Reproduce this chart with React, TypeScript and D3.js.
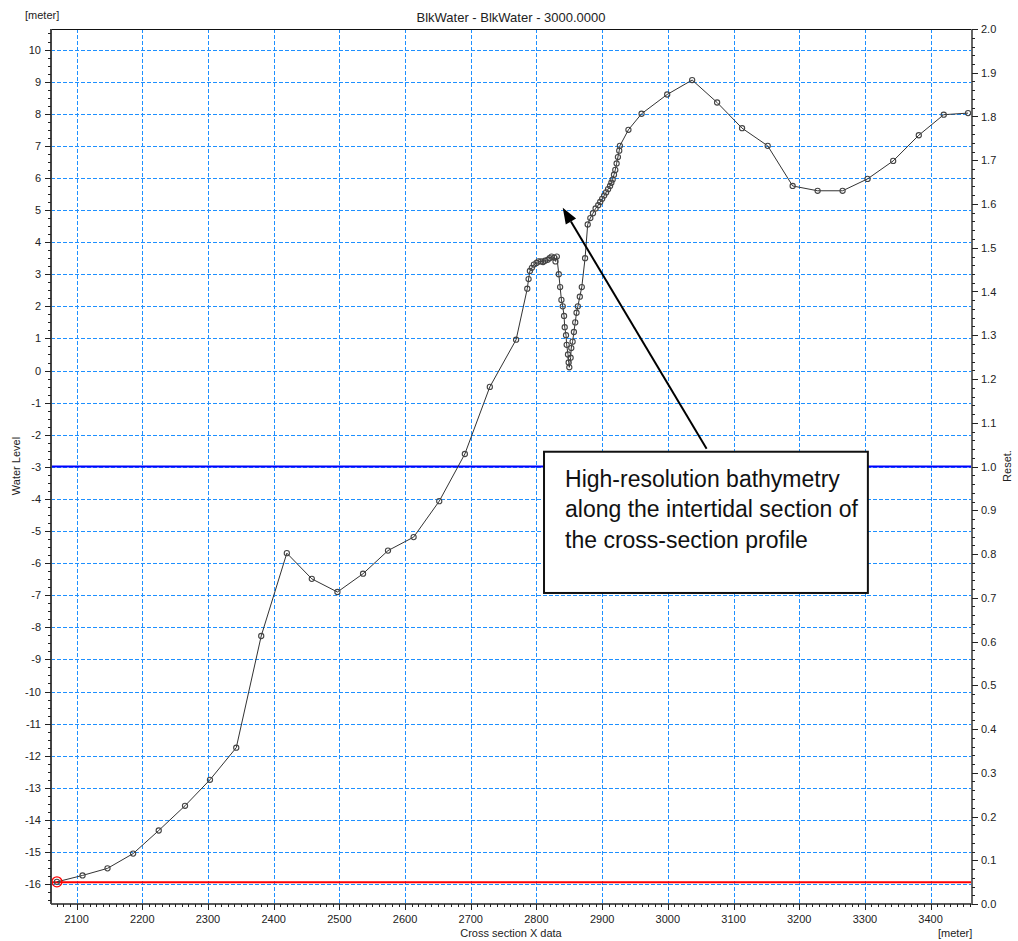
import React, { useEffect, useRef } from 'react';
import * as d3 from 'd3';

// cross-section profile (x in meter, water level in meter)
const crossX = [
  2070, 2109, 2147, 2186, 2225, 2265, 2303, 2343, 2381, 2420, 2458, 2497, 2536, 2574, 2613,
  2652, 2691, 2729, 2769, 2786, 2788, 2790, 2793, 2796, 2800, 2803, 2807, 2810, 2813, 2817,
  2820, 2823, 2827, 2829, 2831, 2834, 2836, 2838, 2840, 2842, 2843, 2845, 2846, 2848, 2849,
  2850, 2852, 2853, 2855, 2857, 2859, 2861, 2863, 2866, 2869, 2874, 2878, 2882, 2886, 2890,
  2894, 2897, 2900, 2903, 2906, 2909, 2912, 2914, 2916, 2918, 2920, 2922, 2924, 2926, 2927,
  2940, 2960, 2999, 3037, 3075, 3113, 3152, 3190, 3228, 3266, 3304, 3343, 3382, 3420, 3457,
];
const waterLevel = [
  -15.93, -15.73, -15.51, -15.05, -14.33, -13.56, -12.75, -11.75, -8.27, -5.69, -6.49, -6.9, -6.33, -5.61, -5.19,
  -4.07, -2.6, -0.51, 0.96, 2.55, 2.85, 3.1, 3.2, 3.3, 3.35, 3.4, 3.4, 3.38, 3.42, 3.45,
  3.5, 3.55, 3.52, 3.4, 3.55, 3.0, 2.6, 2.2, 2.0, 1.7, 1.35, 1.1, 0.8, 0.5, 0.25,
  0.1, 0.4, 0.7, 0.9, 1.2, 1.5, 1.8, 2.0, 2.3, 2.6, 3.5, 4.55, 4.75, 4.9, 5.05,
  5.15, 5.25, 5.35, 5.45, 5.55, 5.65, 5.75, 5.85, 5.95, 6.1, 6.25, 6.45, 6.65, 6.85, 7.0,
  7.5, 8.0, 8.6, 9.05, 8.35, 7.55, 7.0, 5.75, 5.6, 5.6, 5.97, 6.53, 7.33, 7.97, 8.02,
];

// reset levels on the right axis
const resetLevels = [1.0, 0.05];
const resetColors = ['#0000ff', '#ff0000'];

const xTicks = d3.range(2100, 3401, 100);
const xMinorTicks = d3.range(2070, 3461, 10);
const yTicks = d3.range(-16, 11, 1);
const yMinorTicks = d3.range(-16.5, 10.6, 0.25);
const rTicks = d3.range(0, 2.001, 0.1);
const rMinorTicks = d3.range(0, 2.001, 0.02);

// annotation, in data coordinates
const arrowFrom = [3059, -2.44];
const arrowTo = [2840, 5.07];
const noteBox = [2811.5, -2.53, 3304.5, -6.93];
const noteLines = [
  'High-resolution bathymetry',
  'along the intertidal section of',
  'the cross-section profile',
];

const W = 1018;
const H = 941;
const margin = { top: 29, right: 46, bottom: 37, left: 51 };

export default function App() {
  const svgRef = useRef<SVGSVGElement>(null);

  useEffect(() => {
    if (!svgRef.current) return;
    const svg = d3.select(svgRef.current);
    svg.selectAll('*').remove();

    const x0 = margin.left, x1 = W - margin.right;
    const y0 = margin.top, y1 = H - margin.bottom;

    const x = d3.scaleLinear().domain([2061, 3463]).range([x0, x1]);
    const y = d3.scaleLinear().domain([-16.62, 10.64]).range([y1, y0]);
    const yr = d3.scaleLinear().domain([0, 2]).range([y1, y0]);

    const font = 'Liberation Sans, Arial, sans-serif';

    svg.append('rect').attr('width', W).attr('height', H).attr('fill', '#fff');

    // grid
    const grid = svg.append('g').attr('stroke', '#1e90ff').attr('stroke-width', 1)
      .attr('stroke-dasharray', '4,2');
    grid.selectAll('.gx').data(xTicks).enter().append('line')
      .attr('x1', d => Math.round(x(d)) + 0.5).attr('x2', d => Math.round(x(d)) + 0.5)
      .attr('y1', y0).attr('y2', y1);
    grid.selectAll('.gy').data(yTicks).enter().append('line')
      .attr('y1', d => Math.round(y(d)) + 0.5).attr('y2', d => Math.round(y(d)) + 0.5)
      .attr('x1', x0).attr('x2', x1);

    // reset lines
    svg.selectAll('.reset').data(resetLevels).enter().append('line')
      .attr('x1', x0).attr('x2', x1)
      .attr('y1', d => yr(d)).attr('y2', d => yr(d))
      .attr('stroke', (d, i) => resetColors[i]).attr('stroke-width', 2);

    // profile
    const pts = crossX.map((v, i) => [v, waterLevel[i]] as [number, number]);
    const line = d3.line<[number, number]>().x(d => x(d[0])).y(d => y(d[1]));
    svg.append('path').datum(pts).attr('d', line)
      .attr('fill', 'none').attr('stroke', '#333').attr('stroke-width', 1);
    svg.selectAll('.pt').data(pts).enter().append('circle')
      .attr('cx', d => x(d[0])).attr('cy', d => y(d[1])).attr('r', 2.6)
      .attr('fill', 'none').attr('stroke', '#444').attr('stroke-width', 1.1);
    svg.append('circle').attr('cx', x(pts[0][0])).attr('cy', y(pts[0][1])).attr('r', 5)
      .attr('fill', 'none').attr('stroke', '#ff0000').attr('stroke-width', 1.3);

    // frame / axes
    svg.append('line').attr('x1', x0).attr('x2', x1).attr('y1', y0 + 0.5).attr('y2', y0 + 0.5)
      .attr('stroke', '#111');
    svg.append('line').attr('x1', x0).attr('x2', x1).attr('y1', y1).attr('y2', y1)
      .attr('stroke', '#222').attr('stroke-width', 1.5);
    svg.append('line').attr('x1', x0).attr('x2', x0).attr('y1', y0).attr('y2', y1)
      .attr('stroke', '#444').attr('stroke-width', 2);
    svg.append('line').attr('x1', x1).attr('x2', x1).attr('y1', y0).attr('y2', y1)
      .attr('stroke', '#666').attr('stroke-width', 2);

    const tk = svg.append('g').attr('stroke', '#222').attr('stroke-width', 1);
    tk.selectAll('.xm').data(xMinorTicks).enter().append('line')
      .attr('x1', d => Math.round(x(d)) + 0.5).attr('x2', d => Math.round(x(d)) + 0.5)
      .attr('y1', y1).attr('y2', d => y1 + (xTicks.includes(d) ? 6 : 3));
    tk.selectAll('.ym').data(yMinorTicks).enter().append('line')
      .attr('y1', d => Math.round(y(d)) + 0.5).attr('y2', d => Math.round(y(d)) + 0.5)
      .attr('x1', x0).attr('x2', d => x0 - (Number.isInteger(d) ? 6 : 3));
    tk.selectAll('.rm').data(rMinorTicks).enter().append('line')
      .attr('y1', d => Math.round(yr(d)) + 0.5).attr('y2', d => Math.round(yr(d)) + 0.5)
      .attr('x1', x1).attr('x2', (d, i) => x1 + (i % 5 === 0 ? 6 : 3));

    const txt = svg.append('g').attr('font-family', font).attr('font-size', 11).attr('fill', '#222');
    txt.selectAll('.xl').data(xTicks).enter().append('text')
      .attr('x', d => x(d)).attr('y', y1 + 19).attr('text-anchor', 'middle').text(d => String(d));
    txt.selectAll('.yl').data(yTicks).enter().append('text')
      .attr('x', x0 - 10).attr('y', d => y(d) + 4).attr('text-anchor', 'end').text(d => String(d));
    txt.selectAll('.rl').data(rTicks).enter().append('text')
      .attr('x', x1 + 9).attr('y', d => yr(d) + 4).text(d => d.toFixed(1));

    txt.append('text').attr('x', 25).attr('y', 19).text('[meter]');
    txt.append('text').attr('x', 938).attr('y', 937).text('[meter]');
    txt.append('text').attr('x', 511).attr('y', 937).attr('text-anchor', 'middle').text('Cross section X data');
    txt.append('text').attr('transform', 'translate(20,466) rotate(-90)').attr('text-anchor', 'middle').text('Water Level');
    txt.append('text').attr('transform', 'translate(1011,466) rotate(-90)').attr('text-anchor', 'middle').text('Reset.');
    txt.append('text').attr('x', 511).attr('y', 22).attr('text-anchor', 'middle').attr('font-size', 13)
      .text('BlkWater - BlkWater - 3000.0000');

    // annotation arrow
    const ax0 = x(arrowFrom[0]), ay0 = y(arrowFrom[1]);
    const ax1 = x(arrowTo[0]), ay1 = y(arrowTo[1]);
    const ang = Math.atan2(ay1 - ay0, ax1 - ax0);
    const hl = 16, hw = 6;
    const bx = ax1 - hl * Math.cos(ang), by = ay1 - hl * Math.sin(ang);
    svg.append('line').attr('x1', ax0).attr('y1', ay0).attr('x2', bx).attr('y2', by)
      .attr('stroke', '#000').attr('stroke-width', 2);
    svg.append('polygon')
      .attr('points', [
        [ax1, ay1],
        [bx + hw * Math.sin(ang), by - hw * Math.cos(ang)],
        [bx - hw * Math.sin(ang), by + hw * Math.cos(ang)],
      ].map(p => p.join(',')).join(' '))
      .attr('fill', '#000');

    // annotation box
    const bx0 = x(noteBox[0]), by0 = y(noteBox[1]);
    const bx1 = x(noteBox[2]), by1 = y(noteBox[3]);
    svg.append('rect').attr('x', bx0).attr('y', by0).attr('width', bx1 - bx0).attr('height', by1 - by0)
      .attr('fill', '#fff').attr('stroke', '#111').attr('stroke-width', 2);
    svg.append('g').selectAll('text').data(noteLines).enter().append('text')
      .attr('x', bx0 + 21).attr('y', (d, i) => by0 + 35 + i * 30.5)
      .attr('font-family', 'Liberation Sans Narrow, Arial Narrow, Liberation Sans, sans-serif')
      .attr('font-size', 23).attr('fill', '#111').text(d => d);
  }, []);

  return (
    <div style={{ position: 'absolute', left: 0, top: 0 }}>
      <svg ref={svgRef} width={W} height={H} style={{ display: 'block' }} />
    </div>
  );
}
